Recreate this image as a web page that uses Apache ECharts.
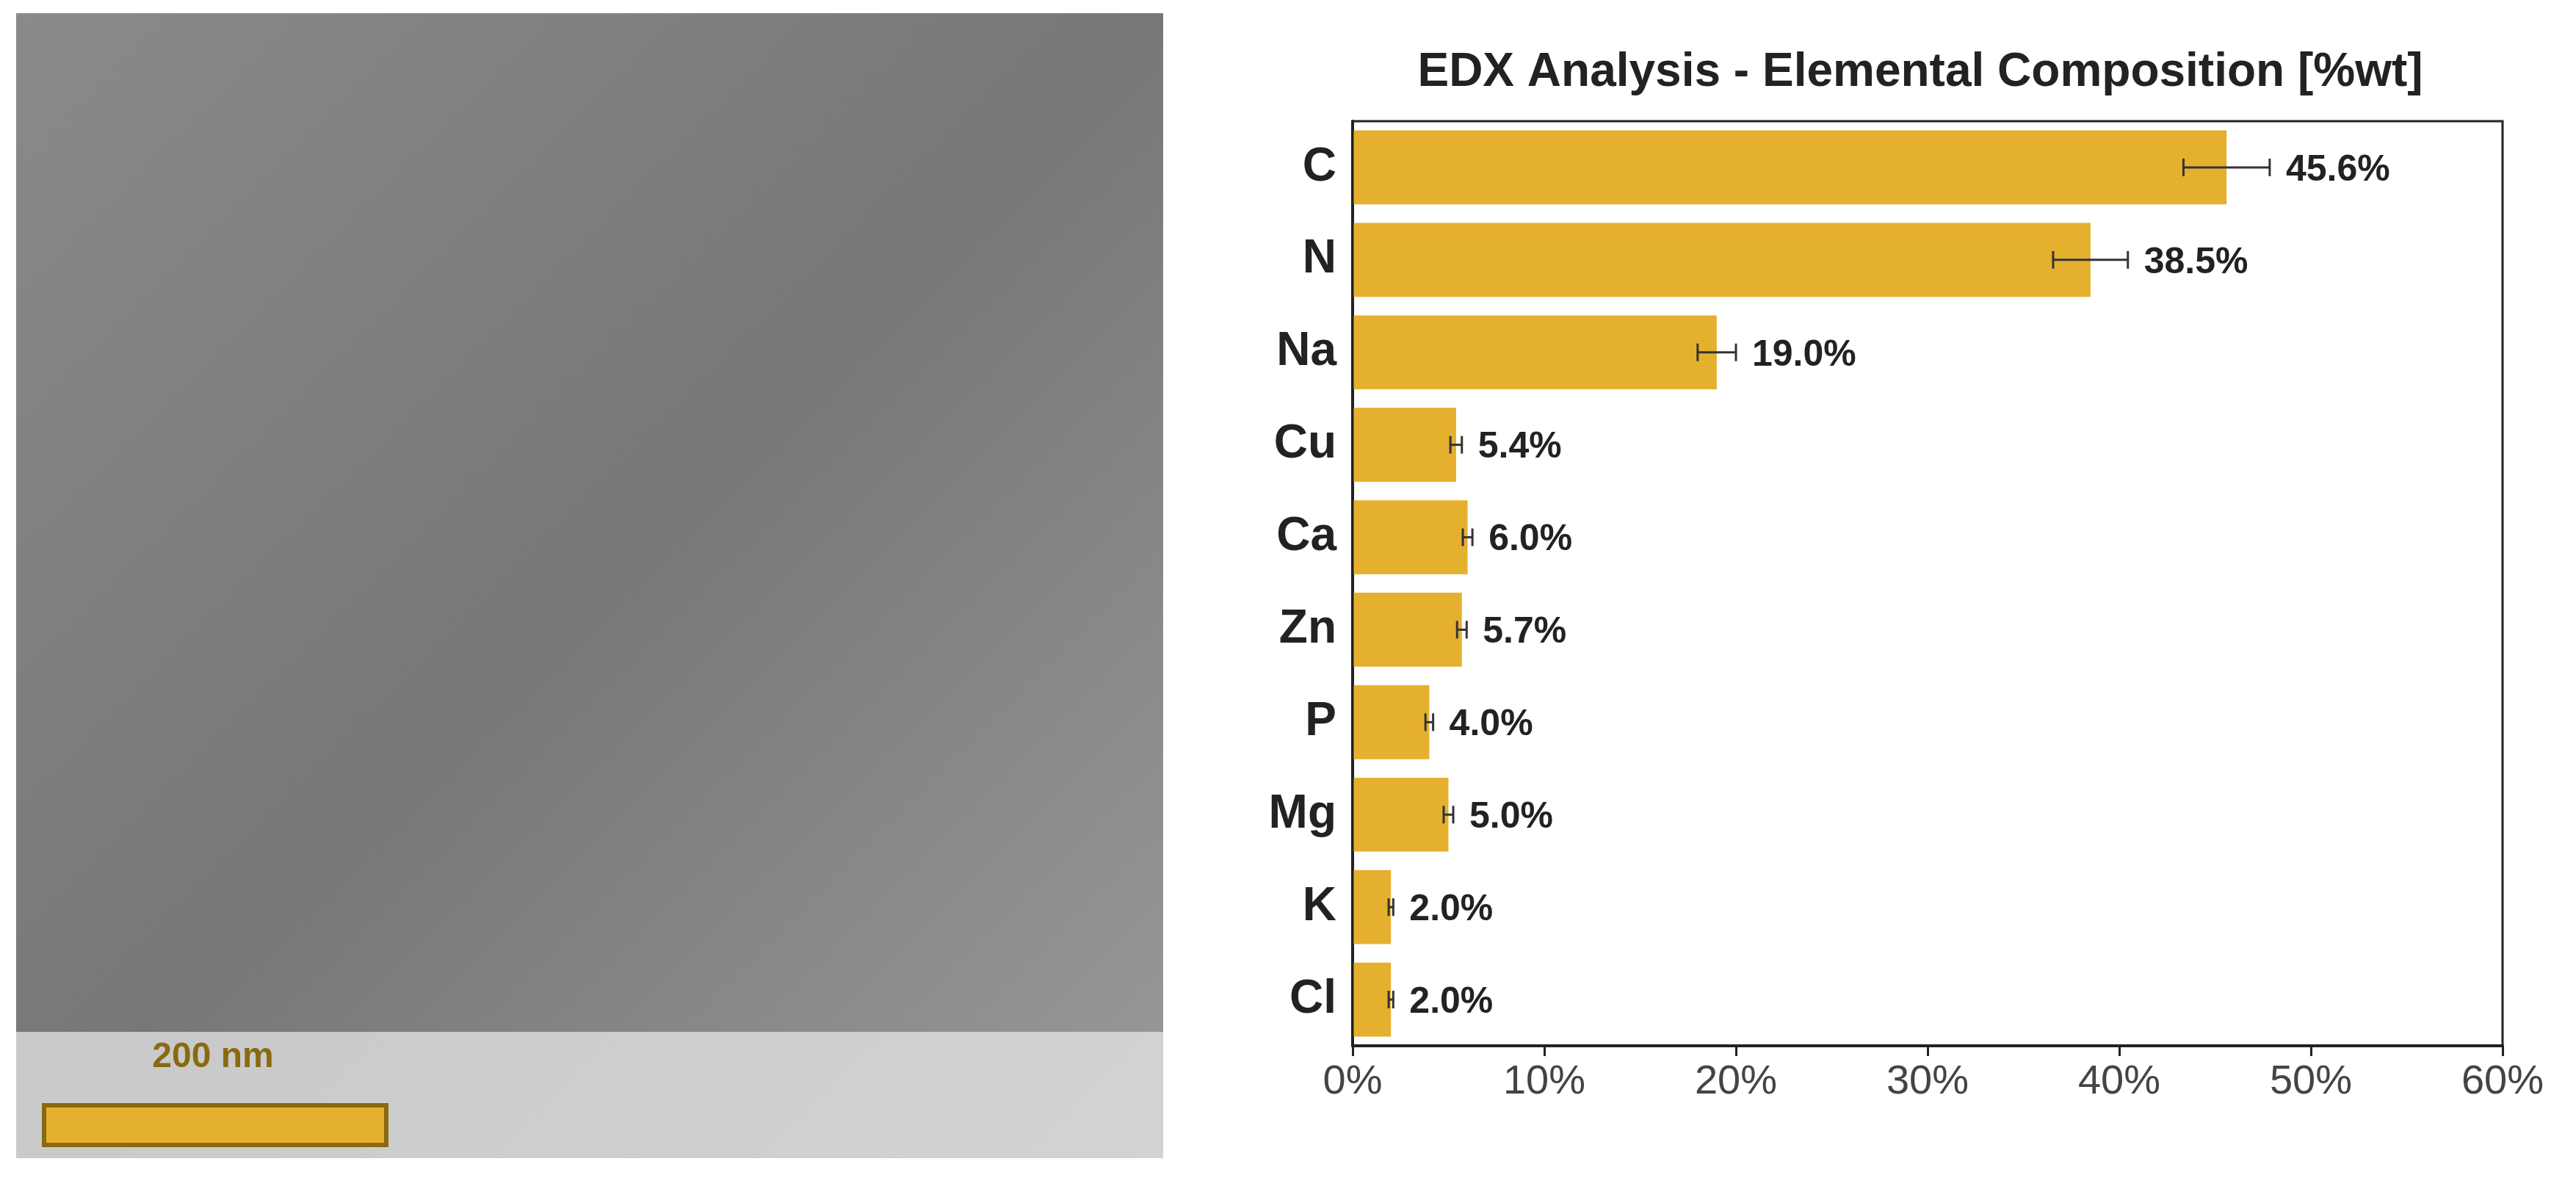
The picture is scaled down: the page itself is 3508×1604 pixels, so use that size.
<!DOCTYPE html>
<html><head><meta charset="utf-8">
<script src="https://cdn.jsdelivr.net/npm/echarts@6/dist/echarts.min.js"></script>
<style>html,body{margin:0;padding:0;background:#fff}#c{width:3508px;height:1604px}</style>
</head><body><div id="c"></div>
<script>
const categories = ['C','N','Na','Cu','Ca','Zn','P','Mg','K','Cl'];
const values = [45.6,38.5,19.0,5.4,6.0,5.7,4.0,5.0,2.0,2.0];
const errors = [2.25,1.95,1.0,0.3,0.25,0.25,0.2,0.25,0.12,0.12];
const xTicks = [0,10,20,30,40,50,60];
const title = 'EDX Analysis - Elemental Composition [%wt]';
const scaleText = '200 nm';

const gold = '#E6B02F';
const chart = echarts.init(document.getElementById('c'));
chart.setOption({
  animation:false,
  title:{text:title,left:2610,top:62,textAlign:'center',
    textStyle:{fontFamily:'Liberation Sans',fontWeight:'bold',fontSize:64,color:'#222'}},
  grid:{left:1842,right:100,top:165,bottom:180},
  xAxis:{type:'value',min:0,max:60,interval:10,
    axisLine:{show:true,lineStyle:{color:'#222',width:4}},
    axisTick:{show:true,length:14,lineStyle:{color:'#222',width:3}},
    splitLine:{show:false},
    axisLabel:{formatter:v=>v+'%',fontFamily:'Liberation Sans',fontSize:56,color:'#444',margin:22}},
  yAxis:{type:'category',data:categories,inverse:true,
    axisLine:{show:true,lineStyle:{color:'#222',width:4}},
    axisTick:{show:false},
    axisLabel:{fontFamily:'Liberation Sans',fontWeight:'bold',fontSize:64,color:'#222',margin:22}},
  graphic:[
    {type:'rect',shape:{x:22,y:18,width:1562,height:1559},style:{fill:new echarts.graphic.LinearGradient(0,0,1,1,[{offset:0,color:'#8a8a8a'},{offset:0.5,color:'#777'},{offset:1,color:'#9a9a9a'}])}},
    {type:'rect',shape:{x:22,y:1405,width:1562,height:172},style:{fill:'rgba(230,230,230,0.75)'}},
    {type:'rect',shape:{x:60,y:1505,width:466,height:54},style:{fill:gold,stroke:'#8a6a10',lineWidth:6}},
    {type:'text',x:290,y:1440,style:{text:scaleText,fill:'#8a6a10',font:'bold 48px Liberation Sans',textAlign:'center',textVerticalAlign:'middle'}},
    {type:'rect',shape:{x:1842,y:165,width:1566,height:1259},style:{fill:'none',stroke:'#222',lineWidth:3},silent:true,z:10}
  ],
  series:[
    {type:'bar',data:values,barWidth:'80%',itemStyle:{color:gold},z:2},
    {type:'custom',z:5,data:values.map((v,i)=>[i,v,errors[i]]),
      renderItem:(p,api)=>{
        const i=api.value(0),v=api.value(1),e=api.value(2);
        const a=api.coord([v-e,i]),b=api.coord([v+e,i]);
        const y=a[1],h=12;
        return {type:'group',children:[
          {type:'line',shape:{x1:a[0],y1:y,x2:b[0],y2:y},style:{stroke:'#333',lineWidth:3}},
          {type:'line',shape:{x1:a[0],y1:y-h,x2:a[0],y2:y+h},style:{stroke:'#333',lineWidth:3}},
          {type:'line',shape:{x1:b[0],y1:y-h,x2:b[0],y2:y+h},style:{stroke:'#333',lineWidth:3}},
          {type:'text',x:b[0]+22,y:y+4,style:{text:v.toFixed(1)+'%',font:'bold 50px Liberation Sans',fill:'#222',textVerticalAlign:'middle'}}
        ]};
      }}
  ]
});
</script></body></html>
